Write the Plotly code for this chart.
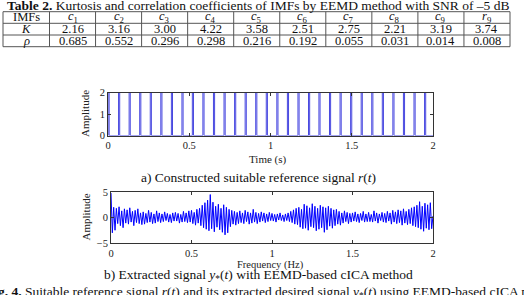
import plotly.graph_objects as go

# ---------------- data ----------------
imf_names = ["c1", "c2", "c3", "c4", "c5", "c6", "c7", "c8", "c9", "r9"]
kurtosis = [2.16, 3.16, 3.00, 4.22, 3.58, 2.51, 2.75, 2.21, 3.19, 3.74]
rho = [0.685, 0.552, 0.296, 0.298, 0.216, 0.192, 0.055, 0.031, 0.014, 0.008]

pulse_onsets = [0.000, 0.065, 0.130, 0.195, 0.260, 0.325, 0.390, 0.455, 0.519,
                0.584, 0.649, 0.714, 0.779, 0.844, 0.909, 0.974, 1.039, 1.104,
                1.169, 1.234, 1.298, 1.363, 1.428, 1.493, 1.558, 1.623, 1.688,
                1.753, 1.818, 1.883, 1.948]
pulse_width = 0.007
pulse_height = 2.0

extracted = [
    4.8, -3.0, 2.0, -2.5, 1.8, -1.2, 2.1, -1.6, 1.3, -2.0, 1.7, -1.1,
    1.5, -1.3, 1.9, -0.9, 1.2, -1.6, 1.4, -1.0, 1.7, -1.2, 0.9, -1.4,
    1.1, -1.3, 0.8, -1.0, 1.4, -0.9, 1.0, -1.2, 0.7, -1.1, 1.3, -0.8,
    0.9, -1.0, 0.7, -0.8, 1.1, -0.6, 0.8, -0.9, 0.6, -1.0, 0.9, -0.7,
    1.0, -0.7, 0.8, -1.1, 0.6, -0.9, 1.2, -0.8, 0.9, -1.0, 1.3, -0.9,
    1.4, -1.2, 1.0, -1.5, 1.6, -1.1, 1.8, -1.6, 2.4, -2.0, 2.9, -2.3,
    3.4, -2.6, 4.5, -2.2, 3.0, -2.8, 2.2, -1.9, 2.6, -2.4, 1.8, -2.9,
    2.5, -3.4, 2.0, -3.0, 1.6, -1.8, 1.4, -1.3, 1.2, -1.5, 1.0, -1.2,
    1.3, -1.0, 0.9, -1.2, 1.4, -0.8, 1.1, -1.3, 0.9, -1.1, 1.6, -0.9,
    1.0, -1.2, 0.8, -0.9, 1.1, -0.7, 0.9, -1.0, 0.7, -0.8, 1.0, -0.6,
    0.8, -0.7, 0.6, -0.9, 0.7, -0.5, 0.9, -0.6, 0.5, -0.8, 0.7, -0.6,
    0.9, -0.8, 1.2, -1.0, 1.5, -1.3, 1.8, -1.4, 2.0, -1.9, 1.6, -2.2,
    2.6, -2.1, 2.3, -2.5, 1.9, -1.8, 2.7, -2.0, 2.2, -2.6, 1.8, -2.3,
    2.4, -2.0, 2.1, -2.9, 1.9, -2.4, 2.2, -1.7, 1.8, -2.1, 1.5, -1.6,
    1.6, -1.3, 1.2, -1.5, 0.9, -1.1, 1.3, -0.8, 1.0, -1.2, 0.8, -0.9,
    0.9, -0.7, 1.1, -0.8, 0.7, -1.0, 0.8, -0.6, 1.2, -0.9, 0.7, -0.8,
    1.0, -0.8, 0.6, -0.9, 1.3, -0.7, 0.9, -1.1, 0.7, -0.6, 1.0, -0.9,
    0.8, -1.0, 1.2, -0.7, 0.9, -1.3, 1.4, -0.9, 1.1, -1.2, 1.5, -1.0,
    1.3, -1.5, 1.7, -1.1, 1.2, -1.4, 1.6, -1.2, 1.9, -1.6, 2.1, -1.8,
    2.4, -2.0, 3.1, -2.3, 2.2, -2.7, 2.8, -2.1, 2.5, -2.4, 2.9, -2.2,
    0.3,
]
t_start, t_end = 0.0, 2.0

x_ticks = [0, 0.5, 1, 1.5, 2]
x_ticklabels = ["0", "0.5", "1", "1.5", "2"]

# ---------------- figure ----------------
W, H = 524, 295
FONT = "Liberation Serif"


def px_x(p):
    return p / W


def px_y(p):
    return 1 - p / H


fig = go.Figure()

# pulse train built from onsets
px, py = [], []
for t0 in pulse_onsets:
    px += [t0, t0, t0 + pulse_width, t0 + pulse_width]
    py += [0, pulse_height, pulse_height, 0]
px.append(t_end)
py.append(0)
fig.add_trace(go.Scatter(x=px, y=py, mode="lines",
                         line=dict(color="#4848e0", width=1),
                         xaxis="x", yaxis="y", showlegend=False, hoverinfo="skip"))

n = len(extracted)
t = [t_start + (t_end - t_start) * i / (n - 1) for i in range(n)]
fig.add_trace(go.Scatter(x=t, y=extracted, mode="lines",
                         line=dict(color="#0000ff", width=1),
                         xaxis="x2", yaxis="y2", showlegend=False, hoverinfo="skip"))

axis_common = dict(showline=True, linecolor="#333333", linewidth=1, mirror="ticks",
                   ticks="inside", ticklen=3, tickcolor="#333333",
                   showgrid=False, zeroline=False, automargin=False,
                   tickfont=dict(family=FONT, size=10.5, color="#222"))

fig.update_layout(
    template="none",
    width=W, height=H, margin=dict(l=0, r=0, t=0, b=0, pad=0, autoexpand=False),
    paper_bgcolor="white", plot_bgcolor="white",
    font=dict(family=FONT, color="#111"),
    xaxis=dict(domain=[px_x(108), px_x(433)], range=[0, 2], anchor="y",
               tickvals=x_ticks, ticktext=x_ticklabels, **axis_common),
    yaxis=dict(domain=[px_y(135.5), px_y(92.5)], range=[0, 2], anchor="x",
               tickvals=[0, 1, 2], **axis_common),
    xaxis2=dict(domain=[px_x(111), px_x(433)], range=[0, 2], anchor="y2",
                tickvals=x_ticks, ticktext=x_ticklabels, **axis_common),
    yaxis2=dict(domain=[px_y(243), px_y(192)], range=[-5, 5], anchor="x2",
                tickvals=[-5, 0, 5], **axis_common),
)

ann = []
shapes = []


def label(xp, yp, text, size, color="#111", **kw):
    d = dict(x=px_x(xp), y=px_y(yp), xref="paper", yref="paper", text=text,
             showarrow=False, xanchor="center", yanchor="middle",
             font=dict(size=size, family=FONT, color=color))
    d.update(kw)
    return d


# table title
ann.append(label(258, 5.3, "<b>Table 2.</b> Kurtosis and correlation coefficients of IMFs by EEMD method with SNR of \u20135 dB", 13.5))

# table grid
col_edges = [3, 49.5] + [49.5 + 46.05 * (i + 1) for i in range(len(imf_names))]
row_edges = [11.7, 23.3, 35.0, 46.7]
for xe in col_edges:
    shapes.append(dict(type="line", xref="paper", yref="paper",
                       x0=px_x(xe), x1=px_x(xe), y0=px_y(row_edges[0]), y1=px_y(row_edges[-1]),
                       line=dict(color="#555", width=1)))
for ye in row_edges:
    shapes.append(dict(type="line", xref="paper", yref="paper",
                       x0=px_x(col_edges[0]), x1=px_x(col_edges[-1]), y0=px_y(ye), y1=px_y(ye),
                       line=dict(color="#555", width=1)))

row_heads = ["IMFs", "<i>K</i>", "<i>\u03c1</i>"]
rows = [
    [f"<i>{s[0]}</i><sub>{s[1:]}</sub>" for s in imf_names],
    [f"{v:.2f}" for v in kurtosis],
    [f"{v:.3f}" for v in rho],
]
for r in range(3):
    yc = (row_edges[r] + row_edges[r + 1]) / 2
    ann.append(label((col_edges[0] + col_edges[1]) / 2, yc, row_heads[r], 12.5))
    for c in range(len(imf_names)):
        xc = (col_edges[c + 1] + col_edges[c + 2]) / 2
        ann.append(label(xc, yc, rows[r][c], 12.5))

# axis titles and captions
ann += [
    label(85, 114, "Amplitude", 11, "#222", textangle=-90),
    label(85, 217.5, "Amplitude", 11, "#222", textangle=-90),
    label(268, 159, "Time (s)", 11, "#222"),
    label(270, 264.5, "Frequency (Hz)", 10.5, "#222"),
    label(258, 177, "a) Constructed suitable reference signal <i>r</i>(<i>t</i>)", 13.5),
    label(258, 275, "b) Extracted signal <i>y</i><sub>*</sub>(<i>t</i>) with EEMD-based cICA method", 13.5),
    label(-16, 292, "<b>Fig. 4.</b> Suitable reference signal <i>r</i>(<i>t</i>) and its extracted desired signal <i>y</i><sub>*</sub>(<i>t</i>) using EEMD-based cICA method", 13.5, xanchor="left"),
]

fig.update_layout(annotations=ann, shapes=shapes)
fig.write_html("out.html")
